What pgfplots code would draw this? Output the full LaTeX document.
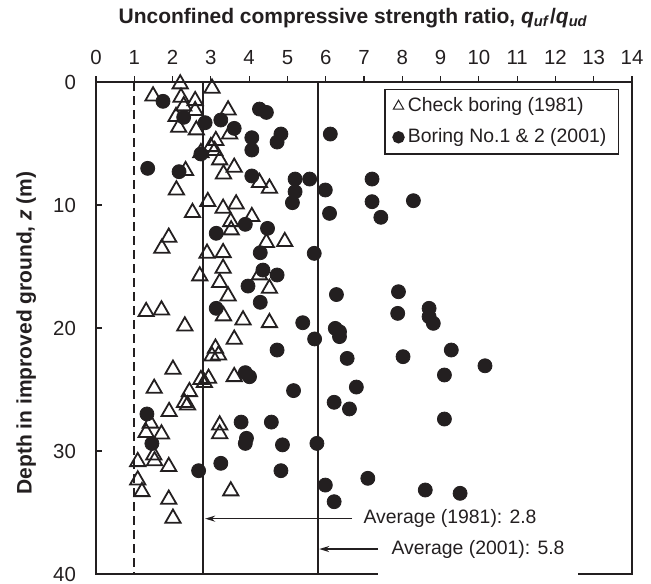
\documentclass[border=0pt]{standalone}
\usepackage{fontspec}
\setmainfont{Liberation Sans}
\usepackage{pgfplots}
\pgfplotsset{compat=1.18}
\usetikzlibrary{arrows.meta}
\definecolor{dk}{HTML}{231F20}
\newcommand{\fs}{\fontsize{9.7}{11.5}\selectfont}
\newcommand{\ft}{\fontsize{10.2}{12}\selectfont}
\newcommand{\fl}{\fontsize{10.5}{12.5}\selectfont}
\begin{document}
\begin{tikzpicture}
\begin{axis}[
  at={(0,0)}, anchor=south west,
  scale only axis, width=268pt, height=246pt,
  xmin=0, xmax=14, ymin=0, ymax=40,
  y dir=reverse,
  xtick={0,1,...,14}, ytick={0,10,20,30,40},
  xtick pos=right, xticklabel pos=right,
  ytick pos=left, yticklabel pos=left,
  xtick align=outside, ytick align=inside,
  major tick length=3pt,
  tick style={dk, line width=0.6pt},
  axis line style={dk, line width=0.9pt},
  /pgf/number format/assume math mode=true,
  ticklabel style={font=\ft, text=dk},
  xticklabel style={yshift=2pt},
  yticklabel style={xshift=-6.5pt},
  xlabel={\textbf{Unconfined compressive strength ratio, \textit{q}\textsubscript{\textit{uf}}/\textit{q}\textsubscript{\textit{ud}}}},
  xlabel style={at={(axis description cs:0.48,1.13)}, anchor=center, font=\fl, text=dk},
  ylabel={\textbf{Depth in improved ground, \textit{z} (m)}},
  ylabel style={at={(axis description cs:-0.13,0.49)}, anchor=center, rotate=0, font=\fl, text=dk},
  legend style={at={(axis description cs:0.976,0.986)}, anchor=north east,
    draw=dk, line width=0.8pt, font=\fs, text=dk,
    inner xsep=4pt, inner ysep=2pt, row sep=3pt,
    /tikz/every even column/.append style={column sep=1pt}},
  legend cell align=left,
]
\addplot[only marks, mark=triangle, mark size=4.4pt, draw=dk, line width=0.9pt,
  legend image code/.code={\draw[mark size=3pt, line width=0.5pt, draw=dk, mark=triangle] plot coordinates {(0pt,0pt)};}]
table {
x y
2.20 0.16
3.03 0.51
1.49 1.14
2.22 1.25
2.59 1.52
2.29 1.95
2.59 2.33
3.45 2.28
2.09 2.82
2.16 3.69
2.62 3.90
3.49 4.23
3.13 4.77
3.00 5.26
3.10 5.58
2.74 5.75
3.23 6.34
3.61 6.94
2.34 7.21
3.33 7.48
4.27 8.18
4.53 8.64
2.10 8.78
2.92 9.73
3.66 9.92
3.32 10.27
2.52 10.62
4.07 10.95
3.52 11.36
3.53 12.03
1.90 12.63
4.93 12.98
4.45 13.06
1.72 13.52
3.32 13.88
2.90 13.93
3.32 15.15
2.71 15.77
4.27 15.69
3.23 16.31
4.53 16.78
3.45 17.40
1.31 18.67
1.71 18.54
3.33 19.02
3.84 19.35
4.53 19.57
2.32 19.84
3.61 20.92
3.12 21.65
3.20 22.20
3.03 22.28
2.01 23.36
3.61 23.96
2.94 24.10
2.74 24.20
2.83 24.44
1.52 24.91
2.44 25.18
2.31 26.07
2.39 26.26
1.91 26.80
1.42 27.74
3.23 27.89
1.31 28.50
1.71 28.62
3.23 28.60
1.51 30.33
1.53 30.80
1.09 30.87
1.90 31.27
1.09 32.36
1.20 33.31
3.52 33.25
1.90 33.93
2.01 35.47
};
\addlegendentry{Check boring (1981)}
\addplot[only marks, mark=*, mark size=3.5pt, draw=dk, fill=dk,
  legend image code/.code={\draw[mark size=2.7pt, draw=dk, fill=dk, mark=*] plot coordinates {(0pt,0pt)};}]
table {
x y
1.75 1.57
4.27 2.20
4.45 2.47
2.29 2.87
3.26 3.09
2.85 3.31
3.61 3.77
6.12 4.23
4.83 4.23
4.07 4.53
4.73 4.88
4.07 5.53
2.74 5.85
1.35 7.02
2.17 7.29
4.07 7.64
5.20 7.89
5.58 7.89
7.21 7.89
5.20 8.92
5.99 8.78
7.21 9.73
8.29 9.65
5.13 9.81
6.10 10.68
7.44 11.00
3.90 11.57
4.48 11.90
3.14 12.30
4.29 13.88
5.70 13.93
4.36 15.29
4.73 15.69
3.97 16.59
6.28 17.28
7.90 17.05
4.29 17.91
3.14 18.40
8.70 18.40
7.88 18.81
8.70 19.08
8.81 19.62
5.40 19.57
6.25 20.03
6.36 20.30
6.36 20.70
5.71 20.89
4.73 21.79
9.28 21.79
8.02 22.33
6.56 22.47
3.90 23.63
4.01 23.96
9.10 23.82
10.16 23.07
6.80 24.80
5.16 25.09
6.22 26.04
6.62 26.58
1.33 26.99
9.10 27.40
3.79 27.65
4.58 27.65
3.93 28.97
3.90 29.38
4.87 29.50
5.77 29.38
1.46 29.39
3.26 31.00
2.68 31.60
4.83 31.60
5.99 32.77
7.10 32.22
8.60 33.17
9.51 33.44
6.22 34.12
};
\addlegendentry{Boring No.1 \& 2 (2001)}
\addplot[forget plot, dk, line width=1pt, dash pattern=on 4.5pt off 2.5pt] coordinates {(1,0) (1,40)};
\addplot[forget plot, dk, line width=1.1pt] coordinates {(2.8,0) (2.8,40)};
\addplot[forget plot, dk, line width=1.1pt] coordinates {(5.8,0) (5.8,40)};
\draw[dk, line width=0.8pt, -{Stealth[length=5pt, width=3pt]}] (axis cs:6.69,35.5) -- (axis cs:2.85,35.5);
\draw[dk, line width=0.8pt, -{Stealth[length=5pt, width=3pt]}] (axis cs:7.37,37.97) -- (axis cs:5.83,37.97);
\node[anchor=west, inner sep=0pt, font=\fs, text=dk] at (axis cs:6.98,35.5) {Average (1981): 2.8};
\node[anchor=west, inner sep=0pt, font=\fs, text=dk] at (axis cs:7.71,37.97) {Average (2001): 5.8};
\coordinate (g1) at (axis cs:7.37,40);
\coordinate (g2) at (axis cs:12.59,40);
\end{axis}
\draw[white, line width=2pt] (g1) -- (g2);
\pgfresetboundingbox
\useasboundingbox (-48pt,-4.5pt) rectangle (277.5pt,287pt);
\end{tikzpicture}
\end{document}
